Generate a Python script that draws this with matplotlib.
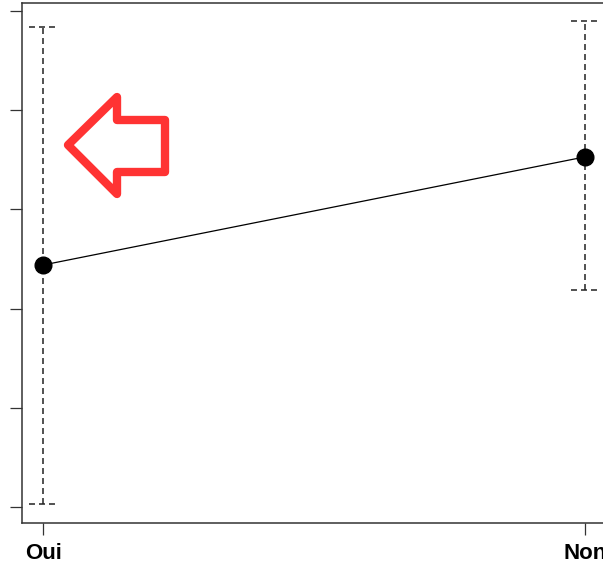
import matplotlib
matplotlib.use("Agg")
import matplotlib.pyplot as plt
from matplotlib.patches import Polygon

plt.rcParams["lines.scale_dashes"] = False

# Group labels, point estimates and interval bounds
categories = ["Oui", "Non"]
means = [2.44, 3.53]
lower = [0.03, 2.19]
upper = [4.84, 4.90]
y_ticks = [0, 1, 2, 3, 4, 5]

W, H = 603, 564
fig = plt.figure(figsize=(W / 100, H / 100), dpi=100)
ax = fig.add_axes([21.5 / W, (H - 523) / H, (607 - 21.5) / W, (523 - 3) / H])

x = [1, 2]
ax.set_xlim(0.96, 2.04)
ax.set_ylim(-0.16, 5.08)

# Confidence intervals: dashed stems and dashed caps
dash = (0, (4.3, 2.9))
cap = 0.026
for xi, lo, hi in zip(x, lower, upper):
    ax.plot([xi, xi], [lo, hi], color="#222222", lw=1.1, linestyle=dash, zorder=2)
    for yy in (lo, hi):
        ax.plot([xi - cap, xi + cap], [yy, yy], color="#222222", lw=1.1,
                linestyle=dash, zorder=2)

# Mean line with filled markers
ax.plot(x, means, color="black", lw=0.9, zorder=3)
ax.plot(x, means, "o", color="black", markersize=12, zorder=4)

ax.set_xticks(x)
ax.set_xticklabels(categories, fontfamily="Liberation Sans", fontweight="bold",
                   fontsize=16)
ax.set_yticks(y_ticks)
ax.set_yticklabels([])
ax.tick_params(axis="both", direction="out", length=8.5, width=0.9,
               color="#333333", pad=6)
for lbl in ax.get_xticklabels():
    lbl.set_x(lbl.get_position()[0])

for sp in ax.spines.values():
    sp.set_linewidth(1.1)
    sp.set_color("#333333")

# Hollow red pointer arrow
arrow_px = [(68, 145), (117, 97), (117, 120), (165, 120), (165, 172),
            (117, 172), (117, 194)]
to_axes = ax.transAxes.inverted()
pts = [to_axes.transform(fig.transFigure.transform((px / W, 1 - py / H)))
       for px, py in arrow_px]
ax.add_patch(Polygon(pts, closed=True, fill=False, edgecolor="#ff3333",
                     lw=6, joinstyle="round", transform=ax.transAxes,
                     zorder=5, clip_on=False))

fig.savefig("out.png", dpi=100)
